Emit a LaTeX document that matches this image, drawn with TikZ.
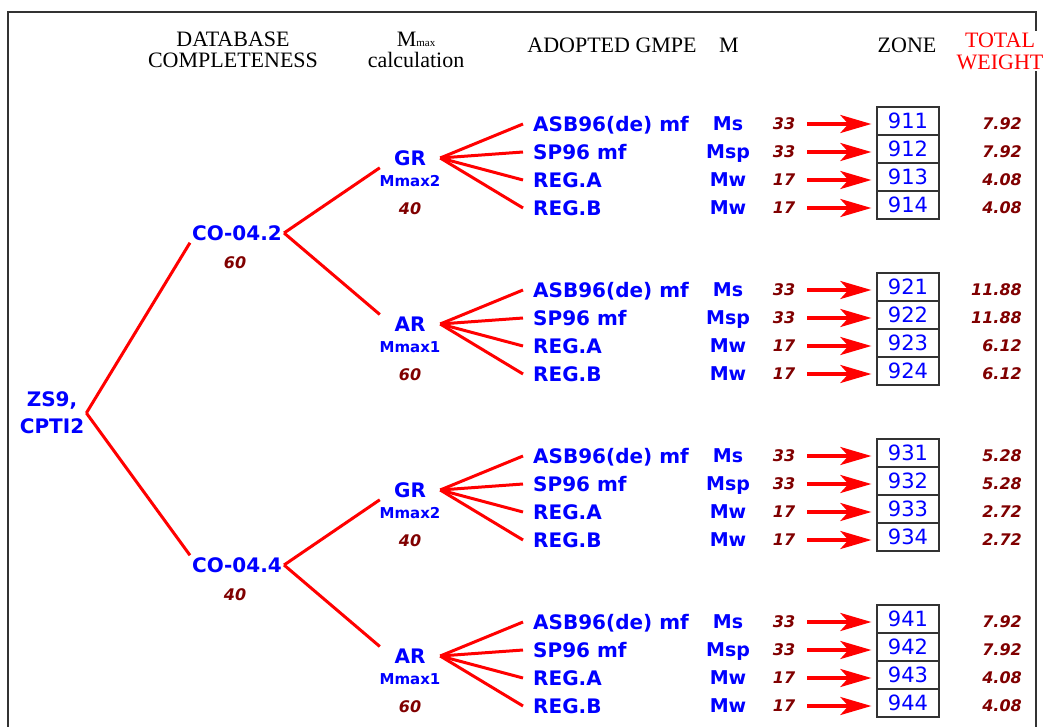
\documentclass[tikz,border=0pt]{standalone}
\usepackage{fontspec}
\setmainfont{Liberation Serif}
\newfontfamily\vfont{DejaVu Sans}
\usepackage{xcolor}
\usepackage{tikz}
\usetikzlibrary{arrows.meta, positioning}
\definecolor{wred}{RGB}{128,0,0}

\begin{document}
\begin{tikzpicture}[
  x=1pt, y=-1pt,
  hd/.style={font=\fontsize{22}{22}\selectfont, inner sep=0pt},
  br/.style={font=\vfont\bfseries\fontsize{20}{27}\selectfont,
    text=blue, inner sep=2pt},
  sm/.style={font=\vfont\bfseries\fontsize{15}{15}\selectfont,
    text=blue, inner sep=1pt},
  mc/.style={font=\vfont\bfseries\fontsize{19}{19}\selectfont,
    text=blue, inner sep=2pt, text height=13.9pt, text depth=0pt},
  wt/.style={font=\vfont\bfseries\itshape\fontsize{16}{16}\selectfont,
    text=wred, inner sep=2pt, text height=11.7pt, text depth=0pt},
  gm/.style={br, inner xsep=10pt, text height=14.6pt, text depth=0pt},
  zone/.style={draw=black!80, line width=1.3pt,
    minimum width=62pt, minimum height=28pt, inner sep=0pt,
    font=\vfont\fontsize{21}{21}\selectfont, text=blue},
  lnk/.style={red, line width=3pt},
  arr/.style={-{Stealth[length=31pt,width=18pt,inset=8pt]}, red,
    line width=3.5pt, shorten <=10pt, shorten >=5pt},
]

\useasboundingbox (0,0) rectangle (1048,727);
\draw[black!80, line width=1.5pt] (8,727) -- (8,12) -- (1036,12) -- (1036,727);

\node[hd, anchor=base] (hdb) at (233,47) {DATABASE};
\node[hd, anchor=base] (hdc) at (233,68) {COMPLETENESS};
\node[hd, anchor=base] (hmx) at (416,47) {M{\fontsize{11}{11}\selectfont max}};
\node[hd, anchor=base] (hcl) at (416,68) {calculation};
\node[hd, anchor=base] (hgm) at (612,53) {ADOPTED GMPE};
\node[hd, anchor=base] (hm) at (729,53) {M};
\node[hd, anchor=base] (hzn) at (907,53) {ZONE};
\node[hd, text=red, fill=white, align=center, inner sep=2pt]
      (htw) at (1000,51) {TOTAL\\WEIGHT};

\node[br, align=center] (root) at (52,413) {ZS9,\\CPTI2};

\foreach \n/\lbl/\w/\y in {co1/CO-04.2/60/233, co2/CO-04.4/40/565}{
  \node[br] (\n) at (237,\y) {\lbl};
  \node[wt] (\n-w) at (235,\y+30) {\w};
}
\draw[lnk] (root.east) -- (co1.south west);
\draw[lnk] (root.east) -- (co2.north west);

\foreach \n/\p/\anc/\lbl/\mm/\w/\y in {
  m1/co1/south west/GR/Mmax2/40/158, m2/co1/north west/AR/Mmax1/60/324,
  m3/co2/south west/GR/Mmax2/40/490, m4/co2/north west/AR/Mmax1/60/656}{
  \node[br, minimum width=60pt] (\n) at (410,\y) {\lbl};
  \node[sm] (\n-mm) at (410,\y+23) {\mm};
  \node[wt] (\n-w) at (410,\y+51) {\w};
  \draw[lnk] (\p.east) -- (\n.\anc);
}

\foreach \g/\y/\ta/\tb in {
  1/124/7.92/4.08, 2/290/11.88/6.12,
  3/456/5.28/2.72, 4/622/7.92/4.08}{
  \foreach \rw/\gmpe/\mt/\w/\tw in {
    1/ASB96(de) mf/Ms/33/\ta, 2/SP96 mf/Msp/33/\ta,
    3/REG.A/Mw/17/\tb, 4/REG.B/Mw/17/\tb}{
    \pgfmathsetmacro\ry{\y+28*(\rw-1)}
    \node[gm, anchor=west] (g\g\rw) at (523,\ry) {\gmpe};
    \node[mc] (mc\g\rw) at (728,\ry) {\mt};
    \node[wt] (w\g\rw) at (784,\ry) {\w};
    \node[zone] (z\g\rw) at (908,\ry-3) {9\g\rw};
    \node[wt, anchor=east] (t\g\rw) at (1024,\ry) {\tw};
    \draw[lnk] (m\g.east) -- (g\g\rw.west);
    \draw[arr] (w\g\rw.east) -- (w\g\rw.east -| z\g\rw.west);
  }
}

\end{tikzpicture}
\end{document}
